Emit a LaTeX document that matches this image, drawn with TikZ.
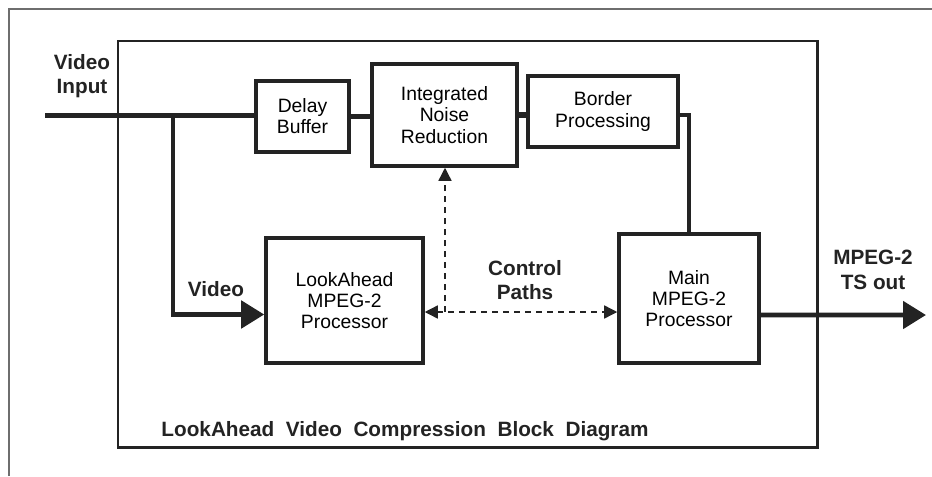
\documentclass[tikz,border=0pt]{standalone}
\usepackage{fontspec}
\setmainfont{Liberation Sans}
\usepackage{tikz}
\usetikzlibrary{arrows.meta,positioning,calc}
\definecolor{inkgray}{RGB}{35,35,35}
\definecolor{framegray}{RGB}{110,110,110}
\tikzset{
  block/.style={rectangle,draw=inkgray,line width=2pt,align=center,inner sep=1pt,
    font=\fontsize{11}{12}\selectfont},
  label/.style={align=center,font=\bfseries\fontsize{11.8}{14}\selectfont,text=inkgray},
  signal/.style={draw=inkgray,line width=3pt},
  ctrl/.style={draw=inkgray,line width=0.8pt,dash pattern=on 1.2mm off 1mm}
}
\begin{document}
\begin{tikzpicture}[y=-1cm,
  >={Triangle[length=4.6mm,width=5.4mm]}]
  \useasboundingbox (0,0) rectangle (18.64,9.52);
  \draw[framegray,line width=0.6pt] (0.18,9.52) -- (0.18,0.18) -- (18.64,0.18);
  % enclosure
  \draw[inkgray,line width=1.7pt] (2.36,0.82) rectangle (16.34,8.94);
  \node[label] (title) at (8.1,8.62) {LookAhead\ \ Video\ \ Compression\ \ Block\ \ Diagram};
  % blocks
  \node[block,minimum width=18.6mm,minimum height=14.2mm] (delay)  at (6.05,2.33)  {Delay\\Buffer};
  \node[block,minimum width=29mm,minimum height=20.4mm]   (inr)    at (8.89,2.30)  {Integrated\\Noise\\Reduction};
  \node[block,minimum width=30mm,minimum height=14.2mm]   (border) at (12.06,2.23) {Border\\Processing};
  \node[block,minimum width=31.4mm,minimum height=25mm]   (look)   at (6.89,6.01)  {LookAhead\\MPEG-2\\Processor};
  \node[block,minimum width=28mm,minimum height=25.8mm]   (main)   at (13.78,5.97) {Main\\MPEG-2\\Processor};
  % labels
  \node[label] (vidin)  at (1.64,1.52)  {Video\\Input};
  \node[label] (vidlbl) at (4.32,5.78)  {Video};
  \node[label] (ctllbl) at (10.5,5.6)   {Control\\Paths};
  \node[label] (outlbl) at (17.46,5.4)  {MPEG-2\\TS out};
  % signal paths
  \coordinate (in)  at (0.9,2.31);
  \coordinate (br)  at (3.46,2.31);
  \coordinate (ctl) at (8.9,6.24);
  \coordinate (out) at (18.52,6.30);
  \draw[signal,line width=3.4pt] (in) -- (in -| delay.west);
  \draw[signal,line width=2.8pt,->] (br) |- ($(look.west)+(0,0.28)$);
  \draw[signal] (delay.east) -- (delay.east -| inr.west);
  \draw[signal] (inr.east) -- (inr.east -| border.west);
  \draw[signal,line width=2.4pt] (inr.east -| border.east) -| (main.north);
  \draw[signal,line width=2.8pt,->] ($(main.east)+(0,0.33)$) -- (out);
  % control paths
  \draw[ctrl,-{Triangle[length=2.6mm,width=2.6mm]}] (ctl) -- (ctl |- inr.south);
  \draw[ctrl,{Triangle[length=2.6mm,width=2.6mm]}-{Triangle[length=2.6mm,width=2.6mm]}]
    (ctl -| look.east) -- (ctl -| main.west);
\end{tikzpicture}
\end{document}
